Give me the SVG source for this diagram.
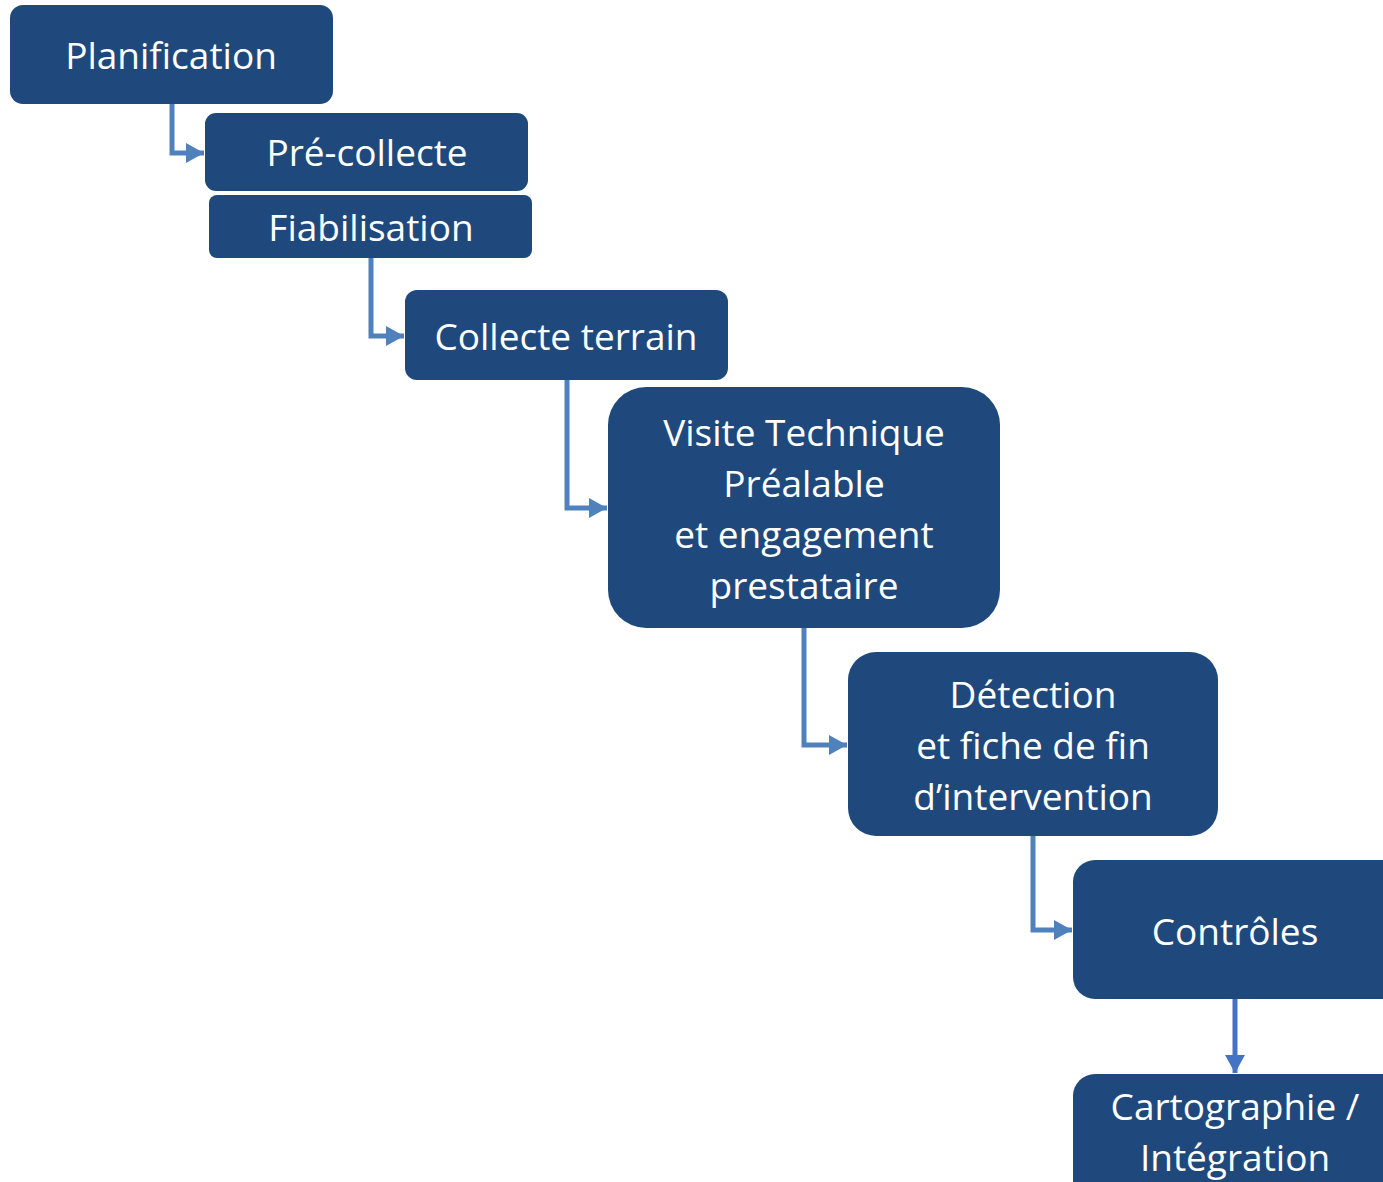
<svg xmlns="http://www.w3.org/2000/svg" width="1383" height="1182" viewBox="0 0 1383 1182">
  <style>
    .box { fill: #1F497D; }
    .lbl { fill: #FFFFFF; font-family: "Open Sans", "Noto Sans", sans-serif; font-size: 37px; text-anchor: middle; }
    .link { fill: none; stroke: #4F81BD; stroke-width: 5; }
    .link2 { fill: none; stroke: #4472C4; stroke-width: 5; }
  </style>
  <defs>
    <marker id="arrow" markerWidth="4" markerHeight="4" refX="3.6" refY="2" orient="auto" markerUnits="strokeWidth">
      <path d="M0,0 L3.6,2 L0,4 Z" fill="#4F81BD"/>
    </marker>
    <marker id="arrow2" markerWidth="4" markerHeight="4" refX="3.6" refY="2" orient="auto" markerUnits="strokeWidth">
      <path d="M0,0 L3.6,2 L0,4 Z" fill="#4472C4"/>
    </marker>
  </defs>
  <rect width="1383" height="1182" fill="#FFFFFF"/>

  <g id="connectors">
    <path class="link" d="M172,104 V153 H204" marker-end="url(#arrow)"/>
    <path class="link" d="M371,258 V336 H404" marker-end="url(#arrow)"/>
    <path class="link" d="M567,380 V508 H607" marker-end="url(#arrow)"/>
    <path class="link" d="M804,628 V745 H847" marker-end="url(#arrow)"/>
    <path class="link" d="M1033,836 V930 H1072" marker-end="url(#arrow)"/>
    <path class="link2" d="M1235,999 V1073" marker-end="url(#arrow2)"/>
  </g>

  <g id="planification">
    <rect class="box" x="10" y="5" width="323" height="99" rx="13"/>
    <text class="lbl" x="171" y="69">Planification</text>
  </g>
  <g id="pre-collecte">
    <rect class="box" x="205" y="113" width="323" height="78" rx="11"/>
    <text class="lbl" x="367" y="166">Pré-collecte</text>
  </g>
  <g id="fiabilisation">
    <rect class="box" x="209" y="195" width="323" height="63" rx="8"/>
    <text class="lbl" x="371" y="241">Fiabilisation</text>
  </g>
  <g id="collecte-terrain">
    <rect class="box" x="405" y="290" width="323" height="90" rx="12"/>
    <text class="lbl" x="566" y="350">Collecte terrain</text>
  </g>
  <g id="visite-technique">
    <rect class="box" x="608" y="387" width="392" height="241" rx="38"/>
    <text class="lbl" x="804" y="446">Visite Technique</text>
    <text class="lbl" x="804" y="497">Préalable</text>
    <text class="lbl" x="804" y="548">et engagement</text>
    <text class="lbl" x="804" y="599">prestataire</text>
  </g>
  <g id="detection">
    <rect class="box" x="848" y="652" width="370" height="184" rx="28"/>
    <text class="lbl" x="1033" y="708">Détection</text>
    <text class="lbl" x="1033" y="759">et fiche de fin</text>
    <text class="lbl" x="1033" y="810">d’intervention</text>
  </g>
  <g id="controles">
    <rect class="box" x="1073" y="860" width="340" height="139" rx="22"/>
    <text class="lbl" x="1235" y="945">Contrôles</text>
  </g>
  <g id="cartographie">
    <rect class="box" x="1073" y="1074" width="340" height="140" rx="22"/>
    <text class="lbl" x="1235" y="1120">Cartographie /</text>
    <text class="lbl" x="1235" y="1171">Intégration</text>
  </g>
</svg>
